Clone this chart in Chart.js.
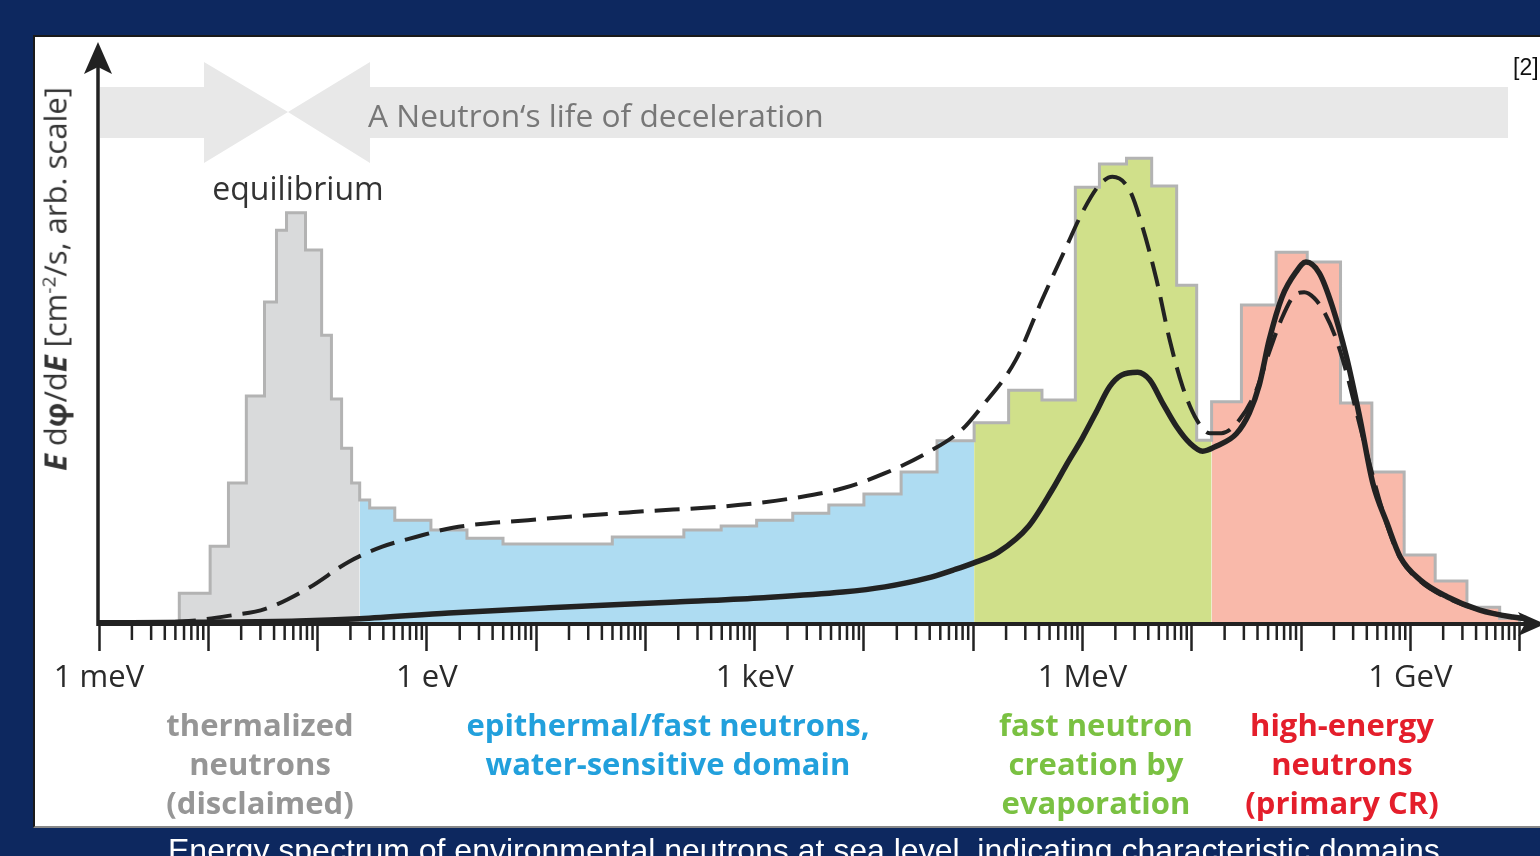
<!DOCTYPE html>
<html><head><meta charset="utf-8">
<script src="https://cdn.jsdelivr.net/npm/chart.js@4.4.1/dist/chart.umd.min.js"></script>
<style>
html,body{margin:0;padding:0;}
body{width:1540px;height:856px;overflow:hidden;position:relative;background:#0d285f;font-family:'Open Sans',sans-serif;}
#panel{position:absolute;left:33px;top:35px;width:1530px;height:789px;background:#fff;border-top:2px solid #1a1a1a;border-left:2px solid #1a1a1a;border-bottom:2px solid #888;}
#c{position:absolute;left:0;top:0;width:1540px;height:856px;}
.t{position:absolute;white-space:nowrap;}
.lbl{font-weight:700;font-size:31px;line-height:39px;text-align:center;transform:translateX(-50%);top:705px;}
</style></head>
<body>
<div id="panel"></div>
<canvas id="c" width="1540" height="856"></canvas>
<div class="t" style="left:368px;top:95px;font-size:31.7px;line-height:39px;color:#777;">A Neutron‘s life of deceleration</div>
<div class="t" style="left:298px;top:168px;font-size:32px;line-height:39px;color:#333;transform:translateX(-50%);">equilibrium</div>
<div class="t" style="left:1513px;top:54px;font-family:Arial,'Liberation Sans',sans-serif;font-size:23px;line-height:26px;color:#111;">[2]</div>
<div class="t" style="left:55px;top:279px;font-size:31px;line-height:31px;color:#333;transform:translate(-50%,-50%) rotate(-90deg);"><b><i>E</i></b> d<b>φ</b>/d<b><i>E</i></b> [cm<sup style="font-size:19px;line-height:0;">-2</sup>/s, arb. scale]</div>
<div class="t lbl" style="left:260px;color:#969696;">thermalized<br>neutrons<br>(disclaimed)</div>
<div class="t lbl" style="left:668px;color:#22a0dc;">epithermal/fast neutrons,<br>water-sensitive domain</div>
<div class="t lbl" style="left:1096px;color:#7ac142;">fast neutron<br>creation by<br>evaporation</div>
<div class="t lbl" style="left:1342px;color:#e41e2b;">high-energy<br>neutrons<br>(primary CR)</div>
<div class="t" style="left:168px;top:834px;font-family:Arial,'Liberation Sans',sans-serif;font-size:32px;line-height:32px;color:#fff;">Energy spectrum of environmental neutrons at sea level, indicating characteristic domains</div>
<script>
// ---- x axis ticks (energy in eV) ----
const decadeTicks = [1e-3,1e-2,1e-1,1,1e1,1e2,1e3,1e4,1e5,1e6,1e7,1e8,1e9,1e10];
const labelValues = [1e-3, 1, 1e3, 1e6, 1e9];
const labelTexts = ['1 meV', '1 eV', '1 keV', '1 MeV', '1 GeV'];

// ---- histogram: bin edges (eV) and heights (arb. units), per domain ----
const thermalEdges = [5.43e-3, 1.04e-2, 1.53e-2, 2.23e-2, 3.27e-2, 4.21e-2, 5.20e-2, 7.76e-2, 0.109, 0.134, 0.166, 0.205, 0.243];
const thermalHeights = [5.3, 13.4, 24.3, 39.3, 55.5, 67.9, 70.9, 64.5, 49.8, 38.8, 30.3, 24.3];
const epiEdges = [0.243, 0.300, 0.509, 1.09, 2.33, 4.98, 49.8, 225, 494, 1043, 2232, 4774, 1.0e4, 2.19e4, 4.67e4, 1.02e5];
const epiHeights = [21.4, 20.0, 17.9, 16.2, 14.8, 13.8, 15.0, 16.2, 16.9, 17.9, 19.1, 20.5, 22.4, 26.2, 31.6];
const evapEdges = [1.02e5, 2.11e5, 4.26e5, 8.61e5, 1.43e6, 2.53e6, 4.30e6, 7.28e6, 1.11e7, 1.52e7];
const evapHeights = [34.7, 40.3, 38.6, 75.3, 79.3, 80.3, 75.5, 58.4, 31.7];
const highEdges = [1.52e7, 2.85e7, 5.92e7, 1.14e8, 2.30e8, 4.45e8, 8.79e8, 1.69e9, 3.30e9, 6.58e9, 1.0e10];
const highHeights = [38.3, 55.0, 64.1, 62.4, 38.1, 26.2, 11.9, 7.4, 2.9, 1.0];

// ---- dashed curve ----
const dashedE = [1e-3, 2.94e-3, 6.65e-3, 0.0152, 0.0333, 0.0826, 0.192, 0.386, 0.792, 1.73, 8.45, 77.6, 703, 2642, 6412, 1.56e4, 3.78e4, 7.76e4, 1.19e5, 2.45e5, 4.27e5, 7.11e5, 1.0e6, 1.43e6, 1.88e6, 2.70e6, 3.55e6, 4.77e6, 6.28e6, 8.26e6, 1.11e7, 1.46e7, 1.87e7, 2.73e7, 3.90e7, 5.12e7, 6.71e7, 8.63e7, 1.07e8, 1.32e8, 1.63e8, 2.11e8, 2.61e8, 3.23e8, 4.27e8, 6.12e8, 8.07e8, 1.23e9, 2.17e9, 4.33e9, 8.63e9];
const dashedFlux = [0, 0.2, 0.5, 1.4, 2.6, 6.2, 10.7, 13.3, 15.0, 16.6, 17.9, 19.3, 20.5, 21.9, 23.4, 26.0, 29.5, 33.4, 37.4, 45.5, 55.9, 65.0, 71.0, 75.7, 77.1, 74.8, 68.4, 59.3, 49.0, 40.9, 35.2, 32.9, 32.9, 35.2, 40.3, 46.9, 52.8, 56.6, 57.2, 56.2, 53.8, 49.0, 43.3, 36.4, 27.4, 17.1, 11.4, 7.4, 4.5, 2.4, 1.2];

// ---- solid curve ----
const solidE = [1e-3, 8.17e-3, 0.067, 0.243, 1.59, 13.2, 190, 1089, 6412, 1.56e4, 3.78e4, 6.56e4, 1.0e5, 1.70e5, 3.23e5, 5.27e5, 7.11e5, 1.0e6, 1.34e6, 1.77e6, 2.28e6, 3.20e6, 4.12e6, 5.42e6, 7.28e6, 9.59e6, 1.26e7, 1.69e7, 2.56e7, 3.37e7, 4.15e7, 5.12e7, 6.71e7, 9.01e7, 1.11e8, 1.47e8, 1.94e8, 2.61e8, 3.44e8, 4.54e8, 6.12e8, 8.07e8, 1.23e9, 2.17e9, 4.33e9, 8.63e9, 1.16e10];
const solidFlux = [0.2, 0.3, 0.5, 0.9, 1.9, 2.8, 3.8, 4.5, 5.5, 6.4, 7.9, 9.3, 10.5, 12.4, 16.9, 23.1, 27.4, 32.1, 36.6, 40.9, 42.9, 43.4, 42.1, 38.1, 34.0, 31.2, 29.8, 30.7, 32.8, 36.4, 41.2, 49.0, 56.4, 60.7, 62.4, 60.5, 54.7, 46.0, 35.7, 24.3, 17.4, 11.6, 7.6, 4.7, 2.4, 1.2, 0.9];

function stepPoints(edges, heights) {
  const pts = heights.map((h, i) => ({x: edges[i], y: h}));
  pts.push({x: edges[edges.length - 1], y: heights[heights.length - 1]});
  return pts;
}
function curvePoints(xs, ys) { return xs.map((x, i) => ({x: x, y: ys[i]})); }

const regions = [
  [thermalEdges, thermalHeights, '#d9dadb'],
  [epiEdges, epiHeights, '#aedcf2'],
  [evapEdges, evapHeights, '#d0e08a'],
  [highEdges, highHeights, '#f9b9aa']
];
const outline = [{x: thermalEdges[0], y: 0}];
regions.forEach(([e, h]) => h.forEach((v, i) => outline.push({x: e[i], y: v})));
outline.push({x: highEdges[highEdges.length - 1], y: highHeights[highHeights.length - 1]});
outline.push({x: highEdges[highEdges.length - 1], y: 0});

const fillSets = regions.map(([e, h, c]) => ({
  data: stepPoints(e, h), stepped: true, fill: 'origin', backgroundColor: c,
  borderWidth: 0, borderColor: 'rgba(0,0,0,0)', pointRadius: 0
}));

const decor = {
  id: 'decor',
  beforeDatasetsDraw(chart) {
    const ctx = chart.ctx;
    ctx.save();
    ctx.fillStyle = '#e8e8e8';
    ctx.beginPath();
    ctx.moveTo(100, 87); ctx.lineTo(204, 87); ctx.lineTo(204, 62); ctx.lineTo(288, 112);
    ctx.lineTo(204, 163); ctx.lineTo(204, 138); ctx.lineTo(100, 138); ctx.closePath(); ctx.fill();
    ctx.beginPath();
    ctx.moveTo(1508, 87); ctx.lineTo(370, 87); ctx.lineTo(370, 62); ctx.lineTo(288, 112);
    ctx.lineTo(370, 163); ctx.lineTo(370, 138); ctx.lineTo(1508, 138); ctx.closePath(); ctx.fill();
    ctx.restore();
  },
  afterDraw(chart) {
    const ctx = chart.ctx, xs = chart.scales.x, ys = chart.scales.y, ca = chart.chartArea;
    const y0 = ys.getPixelForValue(0);
    ctx.save();
    ctx.strokeStyle = '#222'; ctx.fillStyle = '#222';
    ctx.lineWidth = 2.5;
    for (let k = -3; k <= 10; k++) {
      for (let m = 2; m <= 9; m++) {
        const v = m * Math.pow(10, k);
        if (v > xs.max) continue;
        const px = xs.getPixelForValue(v);
        ctx.beginPath(); ctx.moveTo(px, y0 + 1); ctx.lineTo(px, y0 + 16); ctx.stroke();
      }
    }
    const ax = ca.left - 1;
    ctx.lineWidth = 3.5;
    ctx.beginPath(); ctx.moveTo(ax, y0 + 2); ctx.lineTo(ax, 66); ctx.stroke();
    ctx.beginPath(); ctx.moveTo(ax, 42); ctx.lineTo(ax + 14, 74); ctx.lineTo(ax, 67); ctx.lineTo(ax - 14, 74); ctx.closePath(); ctx.fill();
    ctx.beginPath(); ctx.moveTo(1545, y0); ctx.lineTo(1518, y0 - 12); ctx.lineTo(1525, y0); ctx.lineTo(1518, y0 + 12); ctx.closePath(); ctx.fill();
    ctx.restore();
  }
};

new Chart(document.getElementById('c'), {
  type: 'line',
  data: {
    datasets: [
      {data: curvePoints(solidE, solidFlux), borderColor: '#222', borderWidth: 5.5, pointRadius: 0, fill: false, cubicInterpolationMode: 'monotone'},
      {data: curvePoints(dashedE, dashedFlux), borderColor: '#222', borderWidth: 4, borderDash: [25, 11], pointRadius: 0, fill: false, cubicInterpolationMode: 'monotone'},
      {data: outline, stepped: true, borderColor: '#b3b3b3', borderWidth: 3, pointRadius: 0, fill: false},
      ...fillSets
    ]
  },
  options: {
    responsive: false,
    animation: false,
    events: [],
    layout: {padding: {left: 99, right: 8, top: 44, bottom: 142}},
    plugins: {legend: {display: false}, tooltip: {enabled: false}},
    scales: {
      x: {
        type: 'logarithmic', min: 1e-3, max: 1.3e10, position: 'bottom',
        afterBuildTicks: s => { s.ticks = decadeTicks.map(v => ({value: v})); },
        afterFit: s => { s.height = 90; },
        border: {display: true, color: '#222', width: 4, z: 1},
        grid: {drawOnChartArea: false, drawTicks: true, tickLength: 27, tickWidth: 2.5, tickColor: '#222', color: '#222'},
        ticks: {
          autoSkip: false, maxRotation: 0, minRotation: 0, padding: 9, color: '#2a2a2a',
          font: {family: 'Open Sans', size: 31},
          callback: (v) => {
            const i = labelValues.findIndex(l => Math.abs(Math.log10(l) - Math.log10(v)) < 1e-6);
            return i >= 0 ? labelTexts[i] : '';
          }
        }
      },
      y: {type: 'linear', min: 0, max: 100, display: false}
    }
  },
  plugins: [decor]
});
</script>
</body></html>
